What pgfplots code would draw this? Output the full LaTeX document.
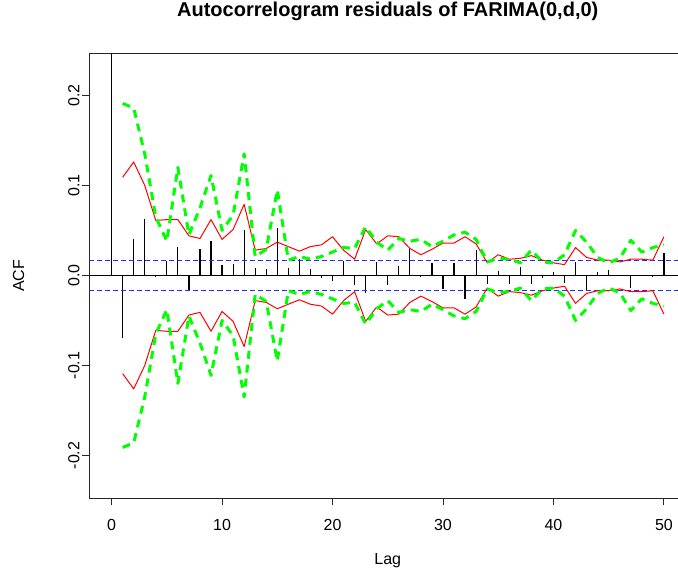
\documentclass[border=0pt]{standalone}
\usepackage{pgfplots}
\usepackage{pgfplotstable}
\pgfplotsset{compat=1.18}
\usepackage{fontspec}
\setmainfont{Liberation Sans}
\definecolor{Rgreen}{RGB}{0,255,0}
\definecolor{Rred}{RGB}{255,0,0}
\definecolor{Rblue}{RGB}{40,40,255}

\pgfplotstableread{
lag acf red green
0 1.000 nan nan
1 -0.069 0.109 0.191
2 0.040 0.126 0.186
3 0.063 0.100 0.135
4 -0.002 0.061 0.065
5 0.016 0.062 0.038
6 0.032 0.062 0.120
7 -0.017 0.044 0.045
8 0.029 0.041 0.075
9 0.038 0.062 0.111
10 0.012 0.040 0.050
11 0.013 0.051 0.067
12 0.050 0.079 0.135
13 0.008 0.028 0.021
14 0.007 0.030 0.029
15 0.053 0.037 0.095
16 0.008 0.032 0.017
17 0.018 0.027 0.021
18 0.007 0.032 0.018
19 -0.003 0.034 0.021
20 -0.006 0.043 0.026
21 0.016 0.028 0.031
22 -0.011 0.018 0.030
23 -0.020 0.051 0.054
24 0.015 0.035 0.037
25 -0.011 0.044 0.028
26 0.010 0.043 0.041
27 0.029 0.030 0.038
28 -0.002 0.023 0.040
29 0.014 0.029 0.032
30 -0.015 0.036 0.038
31 0.014 0.036 0.045
32 -0.026 0.043 0.048
33 0.028 0.035 0.040
34 -0.009 0.014 0.015
35 0.005 0.023 0.019
36 -0.010 0.018 0.018
37 0.009 0.019 0.014
38 -0.010 0.022 0.028
39 -0.003 0.017 0.015
40 0.004 0.014 0.014
41 -0.008 0.012 0.023
42 0.015 0.031 0.050
43 -0.017 0.020 0.037
44 0.004 0.017 0.020
45 0.006 0.017 0.014
46 0.001 0.015 0.019
47 -0.014 0.018 0.039
48 0.001 0.018 0.026
49 -0.002 0.017 0.031
50 0.025 0.043 0.034
}\acftable

\begin{document}
\begin{tikzpicture}
\begin{axis}[
  scale only axis,
  width=596.5pt, height=445pt,
  xmin=-2, xmax=52, ymin=-0.2475, ymax=0.2467,
  axis line style={line width=0.8pt, black!85},
  tick style={line width=0.9pt, black!85},
  tick align=outside, major tick length=7pt,
  xtick pos=bottom, ytick pos=left,
  xtick={0,10,20,30,40,50}, xticklabels={0,10,20,30,40,50},
  ytick={-0.2,-0.1,0,0.1,0.2}, yticklabels={-0.2,-0.1,0.0,0.1,0.2},
  xticklabel style={font=\fontsize{16}{16}\selectfont, inner sep=0pt, anchor=base, yshift=-25pt},
  yticklabel style={font=\fontsize{16}{16}\selectfont, inner sep=0pt, xshift=-3pt, rotate=90, anchor=base},
  title={Autocorrelogram residuals of FARIMA(0,d,0)},
  title style={at={(axis description cs:0.5,1)}, anchor=base, yshift=31pt, inner sep=0pt, font=\bfseries\fontsize{20}{20}\selectfont},
  xlabel={Lag},
  xlabel style={at={(axis description cs:0.5,0)}, anchor=base, yshift=-65.7pt, inner sep=0pt, font=\fontsize{16}{16}\selectfont},
  ylabel={ACF},
  ylabel style={at={(axis description cs:-0.1098,0.5)}, anchor=base, inner sep=0pt, font=\fontsize{16}{16}\selectfont},
]
\addplot[ycomb, black, line width=1.2pt, mark=none] table[x=lag, y=acf] {\acftable};
\addplot[black, line width=0.8pt] coordinates {(-2,0) (52,0)};
\addplot[Rblue, line width=0.8pt, dash pattern=on 5pt off 3pt] coordinates {(-2,0.017) (52,0.017)};
\addplot[Rblue, line width=0.8pt, dash pattern=on 5pt off 3pt] coordinates {(-2,-0.017) (52,-0.017)};
\addplot[Rred, line width=1pt, line join=round, unbounded coords=jump] table[x=lag, y=red] {\acftable};
\addplot[Rred, line width=1pt, line join=round, unbounded coords=jump] table[x=lag, y expr=-\thisrow{red}] {\acftable};
\addplot[Rgreen, line width=3pt, line join=round, dash pattern=on 8pt off 6pt, unbounded coords=jump] table[x=lag, y=green] {\acftable};
\addplot[Rgreen, line width=3pt, line join=round, dash pattern=on 8pt off 6pt, unbounded coords=jump] table[x=lag, y expr=-\thisrow{green}] {\acftable};
\end{axis}
\pgfresetboundingbox
\path[use as bounding box] (-89.5pt,-72.7pt) rectangle (588.5pt,498.3pt);
\end{tikzpicture}
\end{document}
